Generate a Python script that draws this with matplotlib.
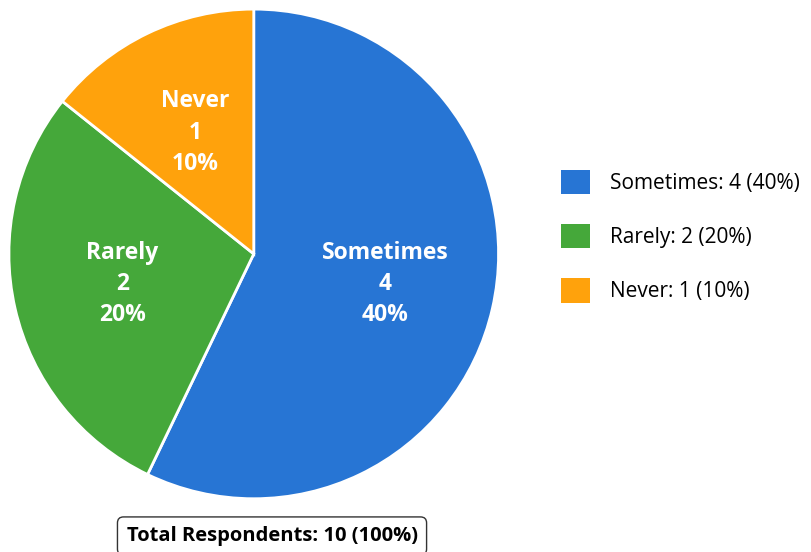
import numpy as np
import matplotlib.pyplot as plt
from matplotlib.patches import Patch

categories = ["Sometimes", "Rarely", "Never"]
counts = [4, 2, 1]
total_respondents = 10
colors = ["#2775D4", "#45A83A", "#FFA20C"]

plt.rcParams['font.family'] = ['Open Sans', 'DejaVu Sans']

fig = plt.figure(figsize=(8.12, 5.52), dpi=100)
fig.patch.set_facecolor("white")
ax = fig.add_axes([0.011, 0.096, 0.603, 0.888])

wedges, _ = ax.pie(counts, colors=colors, startangle=90, counterclock=False,
                   wedgeprops=dict(edgecolor="white", linewidth=2))
ax.set_xlim(-1.0, 1.0)
ax.set_ylim(-1.0, 1.0)
ax.set_aspect("equal")

pcts = [c / total_respondents * 100 for c in counts]
for w, cat, c, p in zip(wedges, categories, counts, pcts):
    mid = np.deg2rad((w.theta1 + w.theta2) / 2)
    r = 0.55
    ax.text(r * np.cos(mid), r * np.sin(mid), f"{cat}\n{c}\n{p:.0f}%",
            ha="center", va="center", color="white", fontsize=16.5,
            fontweight="bold", linespacing=1.4)

handles = [Patch(facecolor=col, edgecolor="none") for col in colors]
labels = [f"{cat}: {c} ({p:.0f}%)" for cat, c, p in zip(categories, counts, pcts)]
fig.legend(handles, labels, loc="center left", bbox_to_anchor=(0.668, 0.572),
           frameon=False, fontsize=15, handlelength=1.4, handleheight=1.4,
           labelspacing=1.45, handletextpad=0.95)

fig.text(0.335, 0.029, f"Total Respondents: {total_respondents} (100%)",
         ha="center", va="center", fontsize=14.5, fontweight="bold",
         bbox=dict(boxstyle="round,pad=0.45,rounding_size=0.3",
                   facecolor="white", edgecolor="#333333", linewidth=1))

fig.savefig("out.png", dpi=100, facecolor="white")
